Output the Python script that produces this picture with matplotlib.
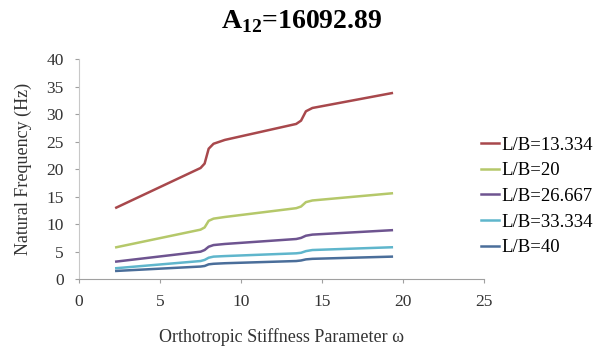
import matplotlib.pyplot as plt

plt.rcParams['font.family'] = ['Liberation Serif', 'DejaVu Serif']
plt.rcParams['mathtext.fontset'] = 'custom'
plt.rcParams['mathtext.rm'] = 'Liberation Serif'
plt.rcParams['mathtext.bf'] = 'Liberation Serif:bold'

# omega values along the x axis
omega = [2.3, 7.5, 7.75, 8.0, 8.3, 9.0, 13.4, 13.7, 14.0, 14.4, 19.3]

labels = ['L/B=13.334', 'L/B=20', 'L/B=26.667', 'L/B=33.334', 'L/B=40']
freq_13 = [13.0, 20.2, 21.0, 23.7, 24.6, 25.3, 28.2, 28.8, 30.5, 31.1, 33.8]
freq_20 = [5.8, 9.0, 9.4, 10.6, 11.0, 11.3, 12.9, 13.2, 14.0, 14.3, 15.6]
freq_26 = [3.2, 5.0, 5.3, 5.9, 6.2, 6.4, 7.3, 7.5, 7.9, 8.1, 8.9]
freq_33 = [2.0, 3.3, 3.5, 3.9, 4.1, 4.2, 4.7, 4.8, 5.1, 5.3, 5.8]
freq_40 = [1.5, 2.3, 2.4, 2.7, 2.8, 2.9, 3.3, 3.4, 3.6, 3.7, 4.1]
colors = ['#A8484C', '#B5C86A', '#6E5490', '#5FB6CC', '#4A6E9A']

fig = plt.figure(figsize=(6.03, 3.49), dpi=100)
ax = fig.add_axes([0.131, 0.20, 0.672, 0.631])

for y, c, lab in zip([freq_13, freq_20, freq_26, freq_33, freq_40], colors, labels):
    ax.plot(omega, y, color=c, lw=1.8, label=lab)

ax.set_xlim(0, 25)
ax.set_ylim(0, 40)
ax.set_xticks(range(0, 26, 5))
ax.set_yticks(range(0, 41, 5))
for s in ['top', 'right']:
    ax.spines[s].set_visible(False)
ax.spines['left'].set_color('#C8C8C8')
ax.spines['bottom'].set_color('#A0A0A0')
ax.tick_params(axis='both', colors='#A0A0A0', labelcolor='#333333', labelsize=12.5,
               length=3, pad=8)

ax.set_xlabel('Orthotropic Stiffness Parameter \u03c9', fontsize=13, color='#333333',
              labelpad=13)
ax.set_ylabel('Natural Frequency (Hz)', fontsize=13, color='#333333', labelpad=10)
fig.text(0.5, 0.937, r'A$_{\mathbf{12}}$=16092.89', ha='center', va='center',
         fontsize=20, fontweight='bold')

ax.legend(loc='center left', bbox_to_anchor=(0.797, 0.437), bbox_transform=fig.transFigure,
          frameon=False, borderpad=0, borderaxespad=0,
          fontsize=13.5, handlelength=1.0, handletextpad=0.1, labelspacing=0.45)

fig.savefig('out.png', dpi=100)
